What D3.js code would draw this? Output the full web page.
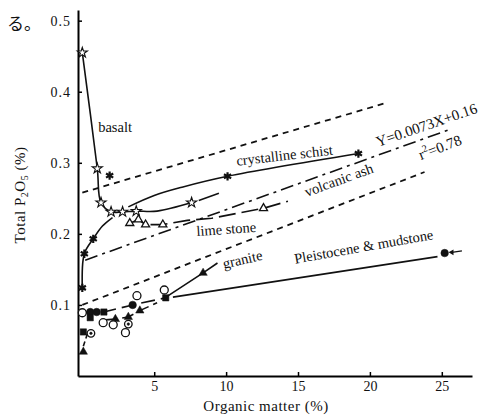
<!DOCTYPE html>
<html>
<head>
<meta charset="utf-8">
<script src="https://cdn.jsdelivr.net/npm/d3@7"></script>
<style>
  body { margin: 0; background: #fff; }
  svg text { font-family: "Liberation Serif", "DejaVu Serif", serif; fill: #111; }
</style>
</head>
<body>
<div id="wrapper"></div>
<script>
// data: [organic matter %, total P2O5 %]
const basaltPts = [[0, 0.455], [1.04, 0.292], [1.3, 0.244], [2.0, 0.231], [2.8, 0.231], [3.75, 0.232], [7.6, 0.244]]
const basaltPath = [[0, 0.455], [1.04, 0.292], [1.3, 0.244], [2.0, 0.231], [2.8, 0.231], [3.75, 0.232], [5.2, 0.232], [7.6, 0.244]]
const basaltTail = [[8.1, 0.247], [9.5, 0.257]]

const schistPts = [[0, 0.124], [0.14, 0.172], [0.76, 0.193], [1.9, 0.282], [10.1, 0.281], [19.2, 0.313]]
const schistPath1 = [[0, 0.124], [0.14, 0.172], [0.76, 0.193], [1.4, 0.211], [2.1, 0.223]]
const schistPath2 = [[3.2, 0.238], [5.0, 0.254], [7.0, 0.266], [10.1, 0.281], [19.2, 0.313]]

const ashPts = [[3.3, 0.215], [3.9, 0.220], [4.4, 0.213], [5.6, 0.213], [12.6, 0.236]]
const ashPath = [[3.3, 0.215], [3.9, 0.220], [4.4, 0.213], [5.6, 0.213], [7.3, 0.219], [9.0, 0.222], [12.6, 0.236], [14.3, 0.246]]

const granitePts = [[0.07, 0.034], [2.3, 0.080], [3.2, 0.083], [4.0, 0.092], [8.4, 0.145]]
const granitePathLow = [[1.6, 0.079], [2.3, 0.080], [3.2, 0.083], [4.0, 0.092], [5.2, 0.103]]
const granitePathHigh = [[5.9, 0.112], [8.4, 0.145], [9.4, 0.159]]
const lowTick = [[0.07, 0.042], [0.35, 0.059]]

const filledCircles = [[0.55, 0.090], [1.0, 0.090], [3.5, 0.100], [25.2, 0.173]]
const openCircles = [[0, 0.089], [1.45, 0.075], [2.15, 0.072], [3.0, 0.061], [3.8, 0.113], [5.7, 0.121]]
const filledSquares = [[0.07, 0.062], [0.55, 0.082], [1.5, 0.090], [5.8, 0.110]]
const dotCircles = [[0.6, 0.060], [3.2, 0.073]]
const mudPathLow = [[0, 0.089], [0.55, 0.090], [1.0, 0.090], [1.5, 0.090], [3.5, 0.100], [5.8, 0.110]]
const mudPath = [[6.3, 0.111], [24.7, 0.168]]
const mudArrow = [[26.4, 0.176], [25.7, 0.174]]

const regLine = [[0.2, 0.163], [25.7, 0.348]]
const upperBand = [[0, 0.258], [21.25, 0.385]]
const lowerBand = [[0, 0.100], [23.8, 0.287]]

const xTicks = [5, 10, 15, 20, 25]
const yTicks = [0.1, 0.2, 0.3, 0.4, 0.5]

// label anchors (left end of baseline) in data units
const labels = [
    { text: "basalt", x: 1.1, y: 0.344, rot: 0 },
    { text: "crystalline schist", x: 10.75, y: 0.296, rot: -6.5 },
    { text: "volcanic ash", x: 15.6, y: 0.252, rot: -20 },
    { text: "lime stone", x: 7.95, y: 0.197, rot: -4 },
    { text: "granite", x: 9.85, y: 0.151, rot: -13 },
    { text: "Pleistocene & mudstone", x: 14.8, y: 0.158, rot: -10 },
]

// dimensions
const dimensions = { width: 502, height: 416 }

const svg = d3.select("#wrapper")
    .append("svg")
    .attr("width", dimensions.width)
    .attr("height", dimensions.height)

const xScale = d3.scaleLinear().domain([-0.3, 27.1]).range([78, 472])
const yScale = d3.scaleLinear().domain([0, 0.515]).range([376, 10])

const line = d3.line().x(d => xScale(d[0])).y(d => yScale(d[1]))
const curve = d3.line().x(d => xScale(d[0])).y(d => yScale(d[1])).curve(d3.curveCatmullRom)

// axes
const xAxis = svg.append("g")
    .attr("transform", `translate(0, ${yScale(0)})`)
    .call(d3.axisBottom(xScale).tickValues(xTicks).tickSize(-4).tickSizeOuter(0).tickPadding(5))
xAxis.select(".domain").attr("stroke-width", 2)
xAxis.selectAll(".tick line").attr("stroke-width", 1.5)
xAxis.selectAll("text").style("font-size", "14px").style("font-family", "Liberation Serif")

const yAxis = svg.append("g")
    .attr("transform", `translate(${xScale(-0.3)}, 0)`)
    .call(d3.axisLeft(yScale).tickValues(yTicks).tickSize(-4).tickSizeOuter(0).tickPadding(7).tickFormat(d3.format(".1f")))
yAxis.select(".domain").attr("stroke-width", 2)
yAxis.selectAll(".tick line").attr("stroke-width", 1.5)
yAxis.selectAll("text").style("font-size", "14px").style("font-family", "Liberation Serif").attr("letter-spacing", "1px")

// reference lines
const drawLine = (pts, dash, width, gen) => svg.append("path")
    .attr("d", (gen || line)(pts))
    .attr("fill", "none")
    .attr("stroke", "#111")
    .attr("stroke-width", width)
    .attr("stroke-dasharray", dash)

drawLine(upperBand, "6,5", 1.8)
drawLine(lowerBand, "6,5", 1.8)
drawLine(regLine, "13,5,3,5", 1.6)

// series lines
drawLine(basaltPath, null, 1.6, curve)
drawLine(basaltTail, null, 1.6)
drawLine(schistPath1, null, 1.6, curve)
drawLine(schistPath2, null, 1.6, curve)
drawLine(ashPath, "17,6", 1.6)
drawLine(granitePathLow, "12,5", 1.6)
drawLine(granitePathHigh, null, 1.6)
drawLine(lowTick, "5,3", 1.6)
drawLine(mudPathLow, "14,6", 1.6)
drawLine(mudPath, null, 1.6)
drawLine(mudArrow, null, 1.4)

// arrowhead near the last mudstone point
svg.append("path")
    .attr("d", d3.symbol(d3.symbolTriangle, 14)())
    .attr("transform", `translate(${xScale(mudArrow[1][0])}, ${yScale(mudArrow[1][1])}) rotate(-90)`)
    .attr("fill", "#111")

// markers
const drawMarks = (pts, type, size, fill, sw) => svg.append("g")
    .selectAll("path")
    .data(pts)
    .join("path")
    .attr("d", d3.symbol(type, size))
    .attr("transform", d => `translate(${xScale(d[0])}, ${yScale(d[1])})`)
    .attr("fill", fill)
    .attr("stroke", "#111")
    .attr("stroke-width", sw)

drawMarks(basaltPts, d3.symbolStar, 32, "#fff", 1.1)
drawMarks(schistPts, d3.symbolAsterisk, 48, "none", 2.2)
drawMarks(ashPts, d3.symbolTriangle, 28, "#fff", 1.3)
drawMarks(granitePts, d3.symbolTriangle, 30, "#111", 0.5)
drawMarks(openCircles, d3.symbolCircle, 50, "#fff", 1.3)
drawMarks(filledCircles, d3.symbolCircle, 45, "#111", 0.5)
drawMarks(filledSquares, d3.symbolSquare, 40, "#111", 0.5)
drawMarks(dotCircles, d3.symbolCircle, 45, "#fff", 1.3)
drawMarks(dotCircles, d3.symbolCircle, 5, "#111", 0.5)

// labels
svg.append("g")
    .selectAll("text")
    .data(labels)
    .join("text")
    .attr("transform", d => `translate(${xScale(d.x)}, ${yScale(d.y)}) rotate(${d.rot})`)
    .style("font-size", "14.5px")
    .text(d => d.text)

const eq = svg.append("g").attr("transform", `translate(378, 147) rotate(-19)`)
eq.append("text").style("font-size", "15px").text("Y=0.0073X+0.16")
const r2 = svg.append("g").attr("transform", `translate(421, 160) rotate(-21)`)
const r2t = r2.append("text").style("font-size", "15px")
r2t.append("tspan").text("r")
r2t.append("tspan").attr("dy", -6).style("font-size", "10px").text("2")
r2t.append("tspan").attr("dy", 6).text("=0.78")

// axis titles
svg.append("text")
    .attr("x", 266)
    .attr("y", 411)
    .attr("text-anchor", "middle")
    .style("font-size", "15px")
    .attr("letter-spacing", "0.5px")
    .text("Organic matter (%)")

const yt = svg.append("text")
    .attr("transform", "translate(25, 195) rotate(-90)")
    .attr("text-anchor", "middle")
    .style("font-size", "15px")
    .attr("letter-spacing", "0.5px")
yt.append("tspan").text("Total P")
yt.append("tspan").attr("dy", 3).style("font-size", "10px").text("2")
yt.append("tspan").attr("dy", -3).text("O")
yt.append("tspan").attr("dy", 3).style("font-size", "10px").text("5")
yt.append("tspan").attr("dy", -3).text(" (%)")

// fragment of the running text above the figure
svg.append("text")
    .attr("x", 7)
    .attr("y", 30)
    .style("font-family", "Noto Sans CJK JP")
    .style("font-size", "17px")
    .text("る。")
</script>
</body>
</html>
